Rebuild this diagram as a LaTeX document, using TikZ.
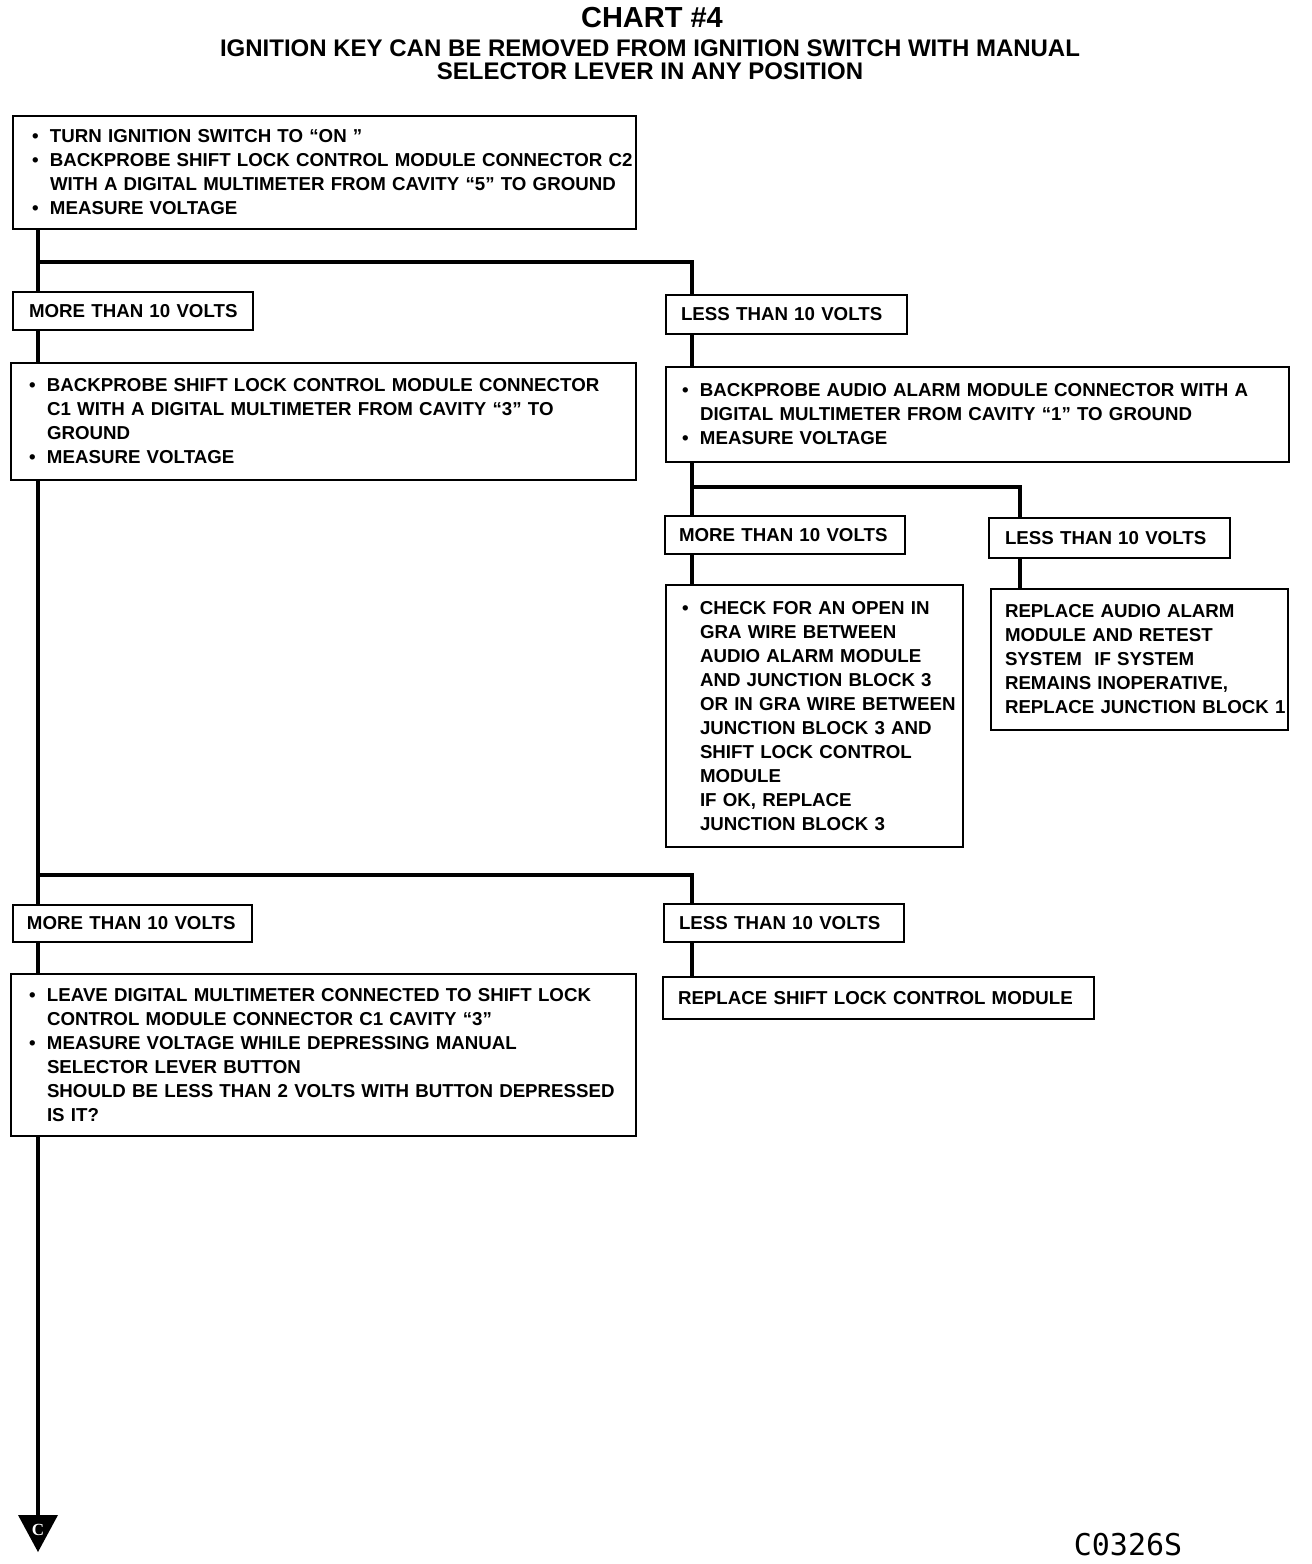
\documentclass[tikz,border=0pt]{standalone}
\usepackage{fontspec}
\setmainfont{Liberation Sans}
\newfontfamily\codefont{DejaVu Sans Mono}
\newfontfamily\serifc{Liberation Serif}
\newlength\bi
\setlength\bi{18pt}
\newcommand\bl[1]{\mbox{\makebox[\bi][l]{\textbullet}#1}}
\newcommand\nb[1]{\mbox{\hspace*{\bi}#1}}
\begin{document}
\begin{tikzpicture}[x=1pt,y=-1pt,
  box/.style={draw, line width=2pt, anchor=north west, align=left, inner ysep=0pt,
    font=\fontsize{18.7}{24}\selectfont\bfseries},
  conn/.style={line width=4pt}]
\useasboundingbox (0,0) rectangle (1312,1564);
% title
\node[font=\fontsize{29}{30}\selectfont\bfseries] (t1) at (652,18) {CHART \#4};
\node[font=\fontsize{24}{23}\selectfont\bfseries, align=center] (t2) at (650,60)
  {IGNITION KEY CAN BE REMOVED FROM IGNITION SWITCH WITH MANUAL\\SELECTOR LEVER IN ANY POSITION};
% boxes
\node[box, minimum width=623, minimum height=113, text width=585, inner xsep=19] (b1) at (12,115)
  {\bl{TURN IGNITION SWITCH TO ``ON ''}\\
   \bl{BACKPROBE SHIFT LOCK CONTROL MODULE CONNECTOR C2}\\
   \nb{WITH A DIGITAL MULTIMETER FROM CAVITY ``5'' TO GROUND}\\
   \bl{MEASURE VOLTAGE}};
\node[box, minimum width=240, minimum height=38, text width=208, inner xsep=16] (m1) at (12,291) {\mbox{MORE THAN 10 VOLTS}};
\node[box, minimum width=241, minimum height=39, text width=211, inner xsep=15] (l1) at (665,294) {\mbox{LESS THAN 10 VOLTS}};
\node[box, minimum width=625, minimum height=117, text width=589, inner xsep=18] (b2) at (10,362)
  {\bl{BACKPROBE SHIFT LOCK CONTROL MODULE CONNECTOR}\\
   \nb{C1 WITH A DIGITAL MULTIMETER FROM CAVITY ``3'' TO}\\
   \nb{GROUND}\\
   \bl{MEASURE VOLTAGE}};
\node[box, minimum width=623, minimum height=95, text width=591, inner xsep=16] (b3) at (665,366)
  {\bl{BACKPROBE AUDIO ALARM MODULE CONNECTOR WITH A}\\
   \nb{DIGITAL MULTIMETER FROM CAVITY ``1'' TO GROUND}\\
   \bl{MEASURE VOLTAGE}};
\node[box, minimum width=240, minimum height=38, text width=212, inner xsep=14] (m2) at (664,515) {\mbox{MORE THAN 10 VOLTS}};
\node[box, minimum width=241, minimum height=40, text width=209, inner xsep=16] (l2) at (988,517) {\mbox{LESS THAN 10 VOLTS}};
\node[box, minimum width=297, minimum height=262, text width=265, inner xsep=16] (b4) at (665,584)
  {\bl{CHECK FOR AN OPEN IN}\\
   \nb{GRA WIRE BETWEEN}\\
   \nb{AUDIO ALARM MODULE}\\
   \nb{AND JUNCTION BLOCK 3}\\
   \nb{OR IN GRA WIRE BETWEEN}\\
   \nb{JUNCTION BLOCK 3 AND}\\
   \nb{SHIFT LOCK CONTROL}\\
   \nb{MODULE}\\
   \nb{IF OK, REPLACE}\\
   \nb{JUNCTION BLOCK 3}};
\node[box, minimum width=297, minimum height=141, text width=269, inner xsep=14] (b5) at (990,588)
  {\mbox{REPLACE AUDIO ALARM}\\
   \mbox{MODULE AND RETEST}\\
   \mbox{SYSTEM \ IF SYSTEM}\\
   \mbox{REMAINS INOPERATIVE,}\\
   \mbox{REPLACE JUNCTION BLOCK 1}};
\node[box, minimum width=239, minimum height=37, text width=211, inner xsep=14] (m3) at (12,904) {\mbox{MORE THAN 10 VOLTS}};
\node[box, minimum width=240, minimum height=38, text width=210, inner xsep=15] (l3) at (663,903) {\mbox{LESS THAN 10 VOLTS}};
\node[box, minimum width=625, minimum height=162, text width=589, inner xsep=18] (b6) at (10,973)
  {\bl{LEAVE DIGITAL MULTIMETER CONNECTED TO SHIFT LOCK}\\
   \nb{CONTROL MODULE CONNECTOR C1 CAVITY ``3''}\\
   \bl{MEASURE VOLTAGE WHILE DEPRESSING MANUAL}\\
   \nb{SELECTOR LEVER BUTTON}\\
   \nb{SHOULD BE LESS THAN 2 VOLTS WITH BUTTON DEPRESSED}\\
   \nb{IS IT?}};
\node[box, minimum width=431, minimum height=42, text width=401, inner xsep=15] (b7) at (662,976) {\mbox{REPLACE SHIFT LOCK CONTROL MODULE}};
% junction coordinates
\coordinate (j1) at (38,262);
\coordinate (j2) at (692,487);
\coordinate (j3) at (38,875);
\coordinate (tc) at (38,1515);
% connectors
\draw[conn] ([xshift=26]b1.south west) -- ([xshift=26]m1.north west);
\draw[conn] (j1) -| ([xshift=27]l1.north west);
\draw[conn] ([xshift=26]m1.south west) -- ([xshift=28]b2.north west);
\draw[conn] ([xshift=27]l1.south west) -- ([xshift=27]b3.north west);
\draw[conn] ([xshift=27]b3.south west) -- ([xshift=28]m2.north west);
\draw[conn] (j2) -| ([xshift=32]l2.north west);
\draw[conn] ([xshift=28]m2.south west) -- ([xshift=27]b4.north west);
\draw[conn] ([xshift=32]l2.south west) -- ([xshift=30]b5.north west);
\draw[conn] ([xshift=28]b2.south west) -- ([xshift=26]m3.north west);
\draw[conn] (j3) -| ([xshift=29]l3.north west);
\draw[conn] ([xshift=26]m3.south west) -- ([xshift=28]b6.north west);
\draw[conn] ([xshift=29]l3.south west) -- ([xshift=30]b7.north west);
\draw[conn] ([xshift=28]b6.south west) -- (tc);
% end triangle
\fill (18,1515) -- (58,1515) -- (38,1552) -- cycle;
\node[text=white, font=\fontsize{17}{17}\selectfont\bfseries\serifc, inner sep=0pt] (c) at (38,1530) {C};
% code
\node[font=\fontsize{30}{30}\selectfont\codefont] (code) at (1128,1545) {C0326S};
\end{tikzpicture}
\end{document}
